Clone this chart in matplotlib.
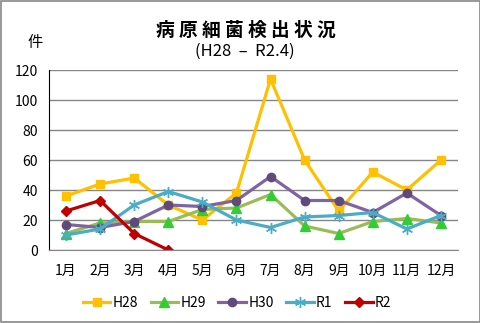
import matplotlib
matplotlib.use('Agg')
import matplotlib.pyplot as plt
from matplotlib.patches import Rectangle

plt.rcParams['font.family'] = ['Noto Sans CJK JP', 'DejaVu Sans']

months = ['1月', '2月', '3月', '4月', '5月', '6月', '7月', '8月', '9月', '10月', '11月', '12月']
h28 = [36, 44, 48, 30, 20, 38, 114, 60, 26, 52, 40, 60]
h29 = [11, 18, 19, 19, 27, 28, 37, 16, 11, 19, 21, 18]
h30 = [17, 15, 19, 30, 29, 33, 49, 33, 33, 25, 38, 23]
r1 = [10, 14, 30, 39, 32, 20, 15, 22, 23, 25, 14, 23]
r2 = [26, 33, 11, 0]
series_names = ['H28', 'H29', 'H30', 'R1', 'R2']

fig = plt.figure(figsize=(4.81, 3.23), dpi=100)
# 外枠
fig.patches.append(Rectangle((0.002, 0.003), 0.995, 0.994, transform=fig.transFigure,
                             fill=False, edgecolor='#888888', linewidth=1.2))

W, H = 481, 323
ax = fig.add_axes([49 / W, 1 - 250 / H, 409 / W, 180 / H])

x = [i + 0.5 for i in range(12)]
lw = 2.3
ax.plot(x, h28, color='#FFC000', lw=lw, marker='s', ms=6, mfc='#FFC000', mec='#FFC000', label=series_names[0])
ax.plot(x, h29, color='#9BBB59', lw=lw, marker='^', ms=6.5, mfc='#33CC33', mec='#33CC33', label=series_names[1])
ax.plot(x, h30, color='#8064A2', lw=lw, marker='o', ms=6, mfc='#604A7B', mec='#604A7B', label=series_names[2])
ax.plot(x, r1, color='#4BACC6', lw=lw, marker=(6, 2, 0), ms=8, mfc='#4BACC6', mec='#4BACC6', mew=1,
        label=series_names[3])
ax.plot(x[:len(r2)], r2, color='#C00000', lw=lw, marker='D', ms=5, mfc='#C00000', mec='#C00000',
        label=series_names[4])

ax.set_xlim(0, 12)
ax.set_ylim(0, 120)
ax.set_yticks(range(0, 121, 20))
ax.set_xticks(x)
ax.set_xticklabels(months)
ax.grid(axis='y', color='#868686', lw=1)
ax.set_axisbelow(True)
for s in ['top', 'right']:
    ax.spines[s].set_visible(False)
ax.spines['left'].set_color('#000000')
ax.spines['bottom'].set_color('#868686')
ax.tick_params(axis='both', length=0, labelsize=10, colors='#000000')
ax.tick_params(axis='x', pad=10)
ax.tick_params(axis='y', pad=8)

fig.text(246 / W, 1 - 30 / H, '病 原 細 菌 検 出 状 況', ha='center', va='center', fontsize=13.5,
         fontweight='bold')
fig.text(245 / W, 1 - 51 / H, '(H28  –  R2.4)', ha='center', va='center', fontsize=12)
fig.text(35 / W, 1 - 42 / H, '件', ha='center', va='center', fontsize=11)

fig.legend(loc='center', bbox_to_anchor=(237 / W, 1 - 303 / H), ncol=5, frameon=False,
           fontsize=10, handlelength=2.0, columnspacing=0.9, handletextpad=0.15)

plt.savefig('out.png', dpi=100)
